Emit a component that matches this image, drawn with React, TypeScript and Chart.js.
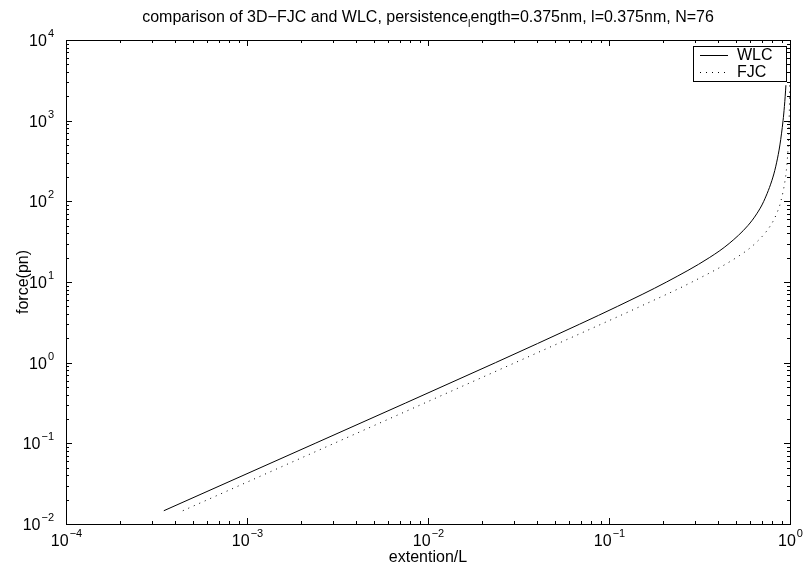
import React, { useEffect, useRef } from 'react';
import { Chart, registerables } from 'chart.js';

Chart.register(...registerables);

// Force (pN) and relative extension
const forceWLC = [0.0146, 0.1, 1, 3, 5, 10, 20, 30, 50, 70, 100, 200, 300, 500, 1000, 1500, 2000, 2750];
const extWLC = [3.47e-4, 2.38e-3, 0.0236, 0.0688, 0.1117, 0.208, 0.358, 0.461, 0.585, 0.6547, 0.716, 0.8052, 0.8428, 0.8795, 0.9155, 0.9313, 0.9405, 0.9494];
const forceFJC = [0.0146, 0.1, 1, 3, 5, 10, 20, 30, 50, 70, 100, 200, 300, 500, 1000, 1500, 2000, 2750];
const extFJC = [4.42e-4, 3.03e-3, 0.0303, 0.0905, 0.1495, 0.2876, 0.5041, 0.6419, 0.7802, 0.8429, 0.89, 0.945, 0.9633, 0.978, 0.989, 0.9927, 0.9945, 0.996];

const xTickExps = [-4, -3, -2, -1, 0];
const yTickExps = [-2, -1, 0, 1, 2, 3, 4];
const seriesLabels = ['WLC', 'FJC'];
const titleParts = ['comparison of 3D\u2212FJC and WLC, persistence', 'l', 'ength=0.375nm, l=0.375nm, N=76'];
const xTitle = 'extention/L';
const yTitle = 'force(pn)';

const FONT = "'Liberation Sans', Arial, Helvetica, sans-serif";

function expText(e: number) {
  return e < 0 ? '\u2212' + Math.abs(e) : String(e);
}

const decorPlugin = {
  id: 'decor',
  afterDatasetsDraw(chart: any) {
    const ctx: CanvasRenderingContext2D = chart.ctx;
    const { left, right, top, bottom } = chart.chartArea;
    const xs = chart.scales.x;
    const ys = chart.scales.y;
    ctx.save();
    ctx.strokeStyle = '#000';
    ctx.fillStyle = '#000';
    ctx.lineWidth = 1;

    // ticks (inside, on all four sides)
    const majorLen = 6;
    const minorLen = 3;
    ctx.beginPath();
    for (let d = -4; d <= 0; d++) {
      for (let m = 1; m <= 9; m++) {
        if (d === 0 && m > 1) break;
        const v = m * Math.pow(10, d);
        const px = Math.round(xs.getPixelForValue(v)) + 0.5;
        const len = m === 1 ? majorLen : minorLen;
        ctx.moveTo(px, bottom);
        ctx.lineTo(px, bottom - len);
        ctx.moveTo(px, top);
        ctx.lineTo(px, top + len);
      }
    }
    for (let d = -2; d <= 4; d++) {
      for (let m = 1; m <= 9; m++) {
        if (d === 4 && m > 1) break;
        const v = m * Math.pow(10, d);
        const py = Math.round(ys.getPixelForValue(v)) + 0.5;
        const len = m === 1 ? majorLen : minorLen;
        ctx.moveTo(left, py);
        ctx.lineTo(left + len, py);
        ctx.moveTo(right, py);
        ctx.lineTo(right - len, py);
      }
    }
    ctx.stroke();

    // box
    ctx.strokeRect(Math.round(left) + 0.5, Math.round(top) + 0.5, Math.round(right - left), Math.round(bottom - top));

    // tick labels
    const baseFont = '16px ' + FONT;
    const expFont = '11px ' + FONT;
    ctx.textBaseline = 'alphabetic';
    ctx.textAlign = 'left';
    xTickExps.forEach((e) => {
      const px = xs.getPixelForValue(Math.pow(10, e));
      ctx.font = baseFont;
      const w10 = ctx.measureText('10').width;
      ctx.font = expFont;
      const we = ctx.measureText(expText(e)).width;
      const x0 = px - (w10 + we) / 2;
      ctx.font = baseFont;
      ctx.fillText('10', x0, bottom + 22);
      ctx.font = expFont;
      ctx.fillText(expText(e), x0 + w10 + 1, bottom + 13);
    });
    yTickExps.forEach((e) => {
      const py = ys.getPixelForValue(Math.pow(10, e));
      ctx.font = expFont;
      const we = ctx.measureText(expText(e)).width;
      ctx.font = baseFont;
      const w10 = ctx.measureText('10').width;
      const xr = left - 12;
      ctx.fillText('10', xr - we - 1 - w10, py + 6);
      ctx.font = expFont;
      ctx.fillText(expText(e), xr - we, py - 3);
    });

    // axis titles
    ctx.font = baseFont;
    ctx.textAlign = 'center';
    ctx.fillText(xTitle, (left + right) / 2, bottom + 38);
    ctx.save();
    ctx.translate(28, (top + bottom) / 2);
    ctx.rotate(-Math.PI / 2);
    ctx.fillText(yTitle, 0, 0);
    ctx.restore();

    // title with subscript l
    ctx.textAlign = 'left';
    ctx.font = baseFont;
    const w1 = ctx.measureText(titleParts[0]).width;
    const w3 = ctx.measureText(titleParts[2]).width;
    ctx.font = '11px ' + FONT;
    const w2 = ctx.measureText(titleParts[1]).width;
    const total = w1 + w2 + w3;
    const tx = (left + right) / 2 - total / 2;
    const ty = 22;
    ctx.font = baseFont;
    ctx.fillText(titleParts[0], tx, ty);
    ctx.font = '11px ' + FONT;
    ctx.fillText(titleParts[1], tx + w1, ty + 5);
    ctx.font = baseFont;
    ctx.fillText(titleParts[2], tx + w1 + w2, ty);

    // legend
    const lx = 693, ly = 46, lw = 93, lh = 35;
    ctx.fillStyle = '#fff';
    ctx.fillRect(lx, ly, lw, lh);
    ctx.strokeStyle = '#000';
    ctx.strokeRect(lx + 0.5, ly + 0.5, lw, lh);
    ctx.fillStyle = '#000';
    ctx.font = baseFont;
    ctx.textBaseline = 'middle';
    ctx.textAlign = 'left';
    const rows = [ly + 9, ly + 26];
    chart.data.datasets.forEach((ds: any, i: number) => {
      const y = Math.round(rows[i]) + 0.5;
      ctx.beginPath();
      ctx.setLineDash(ds.borderDash || []);
      ctx.moveTo(lx + 7, y);
      ctx.lineTo(lx + 35, y);
      ctx.stroke();
      ctx.setLineDash([]);
      ctx.fillText(seriesLabels[i], lx + 44, rows[i] + 1);
    });
    ctx.restore();
  },
};

export default function App() {
  const ref = useRef<HTMLCanvasElement | null>(null);
  useEffect(() => {
    if (!ref.current) return;
    const chart = new Chart(ref.current, {
      type: 'scatter',
      data: {
        datasets: [
          {
            label: seriesLabels[0],
            data: extWLC.map((x, i) => ({ x, y: forceWLC[i] })),
            showLine: true,
            borderColor: '#000',
            backgroundColor: '#000',
            borderWidth: 1,
            pointRadius: 0,
            cubicInterpolationMode: 'monotone',
            fill: false,
          },
          {
            label: seriesLabels[1],
            data: extFJC.map((x, i) => ({ x, y: forceFJC[i] })),
            showLine: true,
            borderColor: '#000',
            backgroundColor: '#000',
            borderWidth: 1,
            borderDash: [1, 5],
            pointRadius: 0,
            cubicInterpolationMode: 'monotone',
            fill: false,
          },
        ],
      },
      options: {
        animation: false,
        responsive: false,
        devicePixelRatio: 1,
        events: [],
        layout: { padding: { left: 66, top: 40, right: 14, bottom: 42 } },
        scales: {
          x: { type: 'logarithmic', min: 1e-4, max: 1, display: false },
          y: { type: 'logarithmic', min: 1e-2, max: 1e4, display: false },
        },
        plugins: {
          legend: { display: false },
          title: { display: false },
          tooltip: { enabled: false },
        },
      },
      plugins: [decorPlugin],
    } as any);
    return () => chart.destroy();
  }, []);
  return (
    <div style={{ position: 'fixed', left: 0, top: 0, width: 804, height: 566, background: '#fff' }}>
      <canvas ref={ref} width={804} height={566} style={{ display: 'block' }} />
    </div>
  );
}
